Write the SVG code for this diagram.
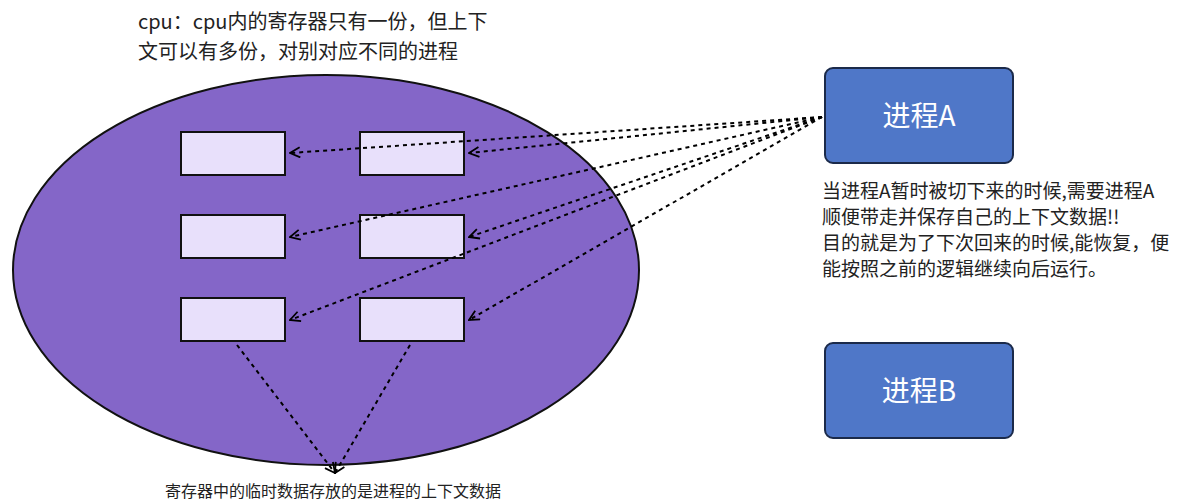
<svg xmlns="http://www.w3.org/2000/svg" width="1192" height="504" viewBox="0 0 1192 504">
<defs>
<style>
text{font-family:"Noto Sans CJK SC","Noto Sans",sans-serif;fill:#222}
.reg{fill:#e8e0fb;stroke:#111;stroke-width:2}
.proc{fill:#4f77c8;stroke:#1b2a4a;stroke-width:2}
.ln{fill:none;stroke:#000;stroke-width:2;stroke-dasharray:4 4;marker-end:url(#ah)}
</style>
<marker id="ah" viewBox="0 0 12 12" refX="11" refY="6" markerWidth="12" markerHeight="12" markerUnits="userSpaceOnUse" orient="auto"><path d="M1 1L11 6L1 11" fill="none" stroke="#000" stroke-width="1.8"/></marker>
</defs>
<rect width="1192" height="504" fill="#fff"/>
<text x="138" y="29" font-size="20">cpu：cpu内的寄存器只有一份，但上下</text>
<text x="138" y="59" font-size="20">文可以有多份，对别对应不同的进程</text>
<g id="cpu"><ellipse cx="326" cy="270" rx="313" ry="195" fill="#8466c8" stroke="#111" stroke-width="2"/></g>
<g id="r1"><rect class="reg" x="181" y="132" width="104" height="43"/></g>
<g id="r2"><rect class="reg" x="360" y="132" width="104" height="43"/></g>
<g id="r3"><rect class="reg" x="181" y="215" width="104" height="43"/></g>
<g id="r4"><rect class="reg" x="360" y="215" width="104" height="43"/></g>
<g id="r5"><rect class="reg" x="181" y="298" width="104" height="43"/></g>
<g id="r6"><rect class="reg" x="360" y="298" width="104" height="43"/></g>
<g id="pa"><rect class="proc" x="825" y="68" width="188" height="95" rx="8"/><text x="919" y="126" font-size="28" style="fill:#fff" text-anchor="middle">进程A</text></g>
<g id="pb"><rect class="proc" x="825" y="343" width="188" height="95" rx="8"/><text x="919" y="401" font-size="28" style="fill:#fff" text-anchor="middle">进程B</text></g>
<g id="connectors">
<path class="ln" d="M822 117L290 153"/>
<path class="ln" d="M822 117L469 153"/>
<path class="ln" d="M822 117L290 237"/>
<path class="ln" d="M822 117L469 237"/>
<path class="ln" d="M822 117L290 320"/>
<path class="ln" d="M822 117L469 320"/>
<path class="ln" d="M237 345L335 473"/>
<path class="ln" d="M410 345L335 473"/>
</g>
<text x="822" y="198" font-size="19">当进程A暂时被切下来的时候,需要进程A</text>
<text x="822" y="224" font-size="19">顺便带走并保存自己的上下文数据!!</text>
<text x="822" y="250" font-size="19">目的就是为了下次回来的时候,能恢复，便</text>
<text x="822" y="276" font-size="19">能按照之前的逻辑继续向后运行。</text>
<text x="165" y="497" font-size="16">寄存器中的临时数据存放的是进程的上下文数据</text>
</svg>
